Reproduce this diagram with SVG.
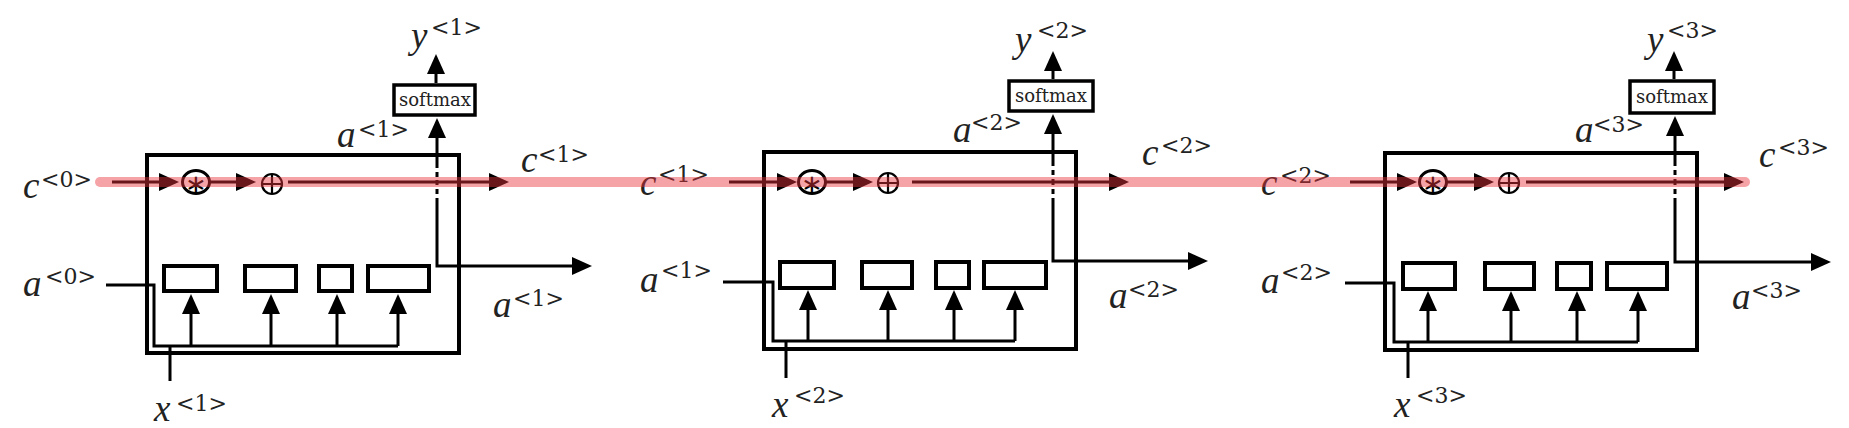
<svg xmlns="http://www.w3.org/2000/svg" width="1849" height="428" viewBox="0 0 1849 428">
<style>
.box{fill:none;stroke:#000;stroke-width:4}
.gate{fill:#fff;stroke:#000;stroke-width:4}
.sm{fill:#fff;stroke:#000;stroke-width:3.5}
.ln{fill:none;stroke:#000;stroke-width:3}
.arr{marker-end:url(#ah)}
.op{fill:#fff;stroke:#000;stroke-width:3}
.opl{fill:none;stroke:#000;stroke-width:2.2}
.v{font-family:"Liberation Serif",serif;font-style:italic;font-size:37px;fill:#222}
.s{font-family:"DejaVu Serif",serif;font-style:normal;font-size:22px;fill:#222}
.smt{font-family:"DejaVu Serif",serif;font-size:18px;text-anchor:middle;fill:#222}
.ast{font-family:"DejaVu Sans",sans-serif;font-size:26px;text-anchor:middle;fill:#000}
.pink{fill:none;stroke:#e8323c;stroke-opacity:.45;stroke-width:10}
</style>
<defs>
<marker id="ah" viewBox="0 -10 21 20" refX="1" refY="0" markerWidth="21" markerHeight="20" markerUnits="userSpaceOnUse" orient="auto"><path d="M0,-9 L20,0 L0,9 z" fill="#000"/></marker>
</defs>
<rect width="1849" height="428" fill="#fff"/>

<g id="cell1">
<rect class="box" x="147" y="155" width="312" height="198"/>
<rect class="gate" x="164" y="266" width="53" height="25"/>
<rect class="gate" x="245" y="266" width="51" height="25"/>
<rect class="gate" x="319" y="266" width="33" height="25"/>
<rect class="gate" x="368" y="266" width="61" height="25"/>
<rect class="sm" x="394" y="85" width="81" height="30"/>
<text class="smt" x="435" y="106">softmax</text>
<ellipse class="op" cx="196" cy="182" rx="13.5" ry="11.5"/>
<text class="ast" x="196" y="193">∗</text>
<circle class="op" cx="272" cy="184" r="10" style="stroke-width:2.2"/>
<path class="opl" d="M262,184 H282 M272,174 V194"/>
</g>

<g id="cell2">
<rect class="box" x="764" y="152" width="312" height="197"/>
<rect class="gate" x="780" y="262" width="54" height="26"/>
<rect class="gate" x="862" y="262" width="50" height="26"/>
<rect class="gate" x="936" y="262" width="33" height="26"/>
<rect class="gate" x="984" y="262" width="62" height="26"/>
<rect class="sm" x="1009" y="81" width="84" height="30"/>
<text class="smt" x="1051" y="102">softmax</text>
<ellipse class="op" cx="812" cy="182" rx="13.5" ry="11.5"/>
<text class="ast" x="812" y="193">∗</text>
<circle class="op" cx="888" cy="183" r="10" style="stroke-width:2.2"/>
<path class="opl" d="M878,183 H898 M888,173 V193"/>
</g>

<g id="cell3">
<rect class="box" x="1385" y="153" width="312" height="197"/>
<rect class="gate" x="1403" y="263" width="52" height="26"/>
<rect class="gate" x="1485" y="263" width="49" height="26"/>
<rect class="gate" x="1557" y="263" width="34" height="26"/>
<rect class="gate" x="1607" y="263" width="60" height="26"/>
<rect class="sm" x="1630" y="81" width="84" height="32"/>
<text class="smt" x="1672" y="103">softmax</text>
<ellipse class="op" cx="1433" cy="182" rx="13.5" ry="11.5"/>
<text class="ast" x="1433" y="193">∗</text>
<circle class="op" cx="1509" cy="183" r="10" style="stroke-width:2.2"/>
<path class="opl" d="M1499,183 H1519 M1509,173 V193"/>
</g>

<g id="connectors">
<!-- cell 1 -->
<path class="ln arr" d="M436,83 V73"/>
<path class="ln arr" d="M437,168 V137"/>
<path class="ln" d="M437,172 V177 M437,180 V185 M437,189 V194"/>
<path class="ln arr" d="M437,198 V266 H573"/>
<path class="ln arr" d="M191,346 V313"/>
<path class="ln arr" d="M271,346 V313"/>
<path class="ln arr" d="M337,346 V313"/>
<path class="ln arr" d="M398,346 V313"/>
<path class="ln" d="M106,285 H154 V346 H398 M170,381 V346"/>
<path class="ln arr" d="M112,182 H160"/>
<path class="ln arr" d="M210,182 H237"/>
<path class="ln arr" d="M288,182 H490"/>
<!-- cell 2 -->
<path class="ln arr" d="M1053,79 V70"/>
<path class="ln arr" d="M1053,166 V133"/>
<path class="ln" d="M1053,170 V175 M1053,179 V185 M1053,189 V194"/>
<path class="ln arr" d="M1053,198 V261 H1189"/>
<path class="ln arr" d="M808,341 V309"/>
<path class="ln arr" d="M888,341 V309"/>
<path class="ln arr" d="M954,341 V309"/>
<path class="ln arr" d="M1015,341 V309"/>
<path class="ln" d="M723,282 H773 V341 H1015 M786,378 V341"/>
<path class="ln arr" d="M729,182 H778"/>
<path class="ln arr" d="M826,182 H854"/>
<path class="ln arr" d="M912,182 H1110"/>
<!-- cell 3 -->
<path class="ln arr" d="M1674,79 V70"/>
<path class="ln arr" d="M1675,166 V135"/>
<path class="ln" d="M1675,170 V175 M1675,179 V185 M1675,189 V194"/>
<path class="ln arr" d="M1675,198 V262 H1812"/>
<path class="ln arr" d="M1428,342 V310"/>
<path class="ln arr" d="M1511,342 V310"/>
<path class="ln arr" d="M1577,342 V310"/>
<path class="ln arr" d="M1638,342 V310"/>
<path class="ln" d="M1345,283 H1394 V342 H1638 M1408,378 V342"/>
<path class="ln arr" d="M1350,182 H1398"/>
<path class="ln arr" d="M1447,182 H1475"/>
<path class="ln arr" d="M1526,182 H1725"/>
</g>

<g id="labels">
<text class="v" x="23" y="198">c<tspan class="s" x="41" y="187">&lt;0&gt;</tspan></text>
<text class="v" x="23" y="296">a<tspan class="s" x="45" y="284">&lt;0&gt;</tspan></text>
<text class="v" x="154" y="421">x<tspan class="s" x="176" y="411">&lt;1&gt;</tspan></text>
<text class="v" x="411" y="48">y<tspan class="s" x="431" y="35">&lt;1&gt;</tspan></text>
<text class="v" x="337" y="147">a<tspan class="s" x="358" y="137">&lt;1&gt;</tspan></text>
<text class="v" x="521" y="172">c<tspan class="s" x="538" y="162">&lt;1&gt;</tspan></text>
<text class="v" x="493" y="317">a<tspan class="s" x="513" y="306">&lt;1&gt;</tspan></text>

<text class="v" x="640" y="195">c<tspan class="s" x="658" y="182">&lt;1&gt;</tspan></text>
<text class="v" x="640" y="292">a<tspan class="s" x="661" y="278">&lt;1&gt;</tspan></text>
<text class="v" x="772" y="417">x<tspan class="s" x="794" y="403">&lt;2&gt;</tspan></text>
<text class="v" x="1015" y="52">y<tspan class="s" x="1037" y="38">&lt;2&gt;</tspan></text>
<text class="v" x="953" y="142">a<tspan class="s" x="971" y="130">&lt;2&gt;</tspan></text>
<text class="v" x="1142" y="165">c<tspan class="s" x="1161" y="153">&lt;2&gt;</tspan></text>
<text class="v" x="1109" y="308">a<tspan class="s" x="1128" y="297">&lt;2&gt;</tspan></text>

<text class="v" x="1261" y="195">c<tspan class="s" x="1280" y="183">&lt;2&gt;</tspan></text>
<text class="v" x="1261" y="293">a<tspan class="s" x="1281" y="280">&lt;2&gt;</tspan></text>
<text class="v" x="1394" y="417">x<tspan class="s" x="1416" y="403">&lt;3&gt;</tspan></text>
<text class="v" x="1647" y="52">y<tspan class="s" x="1667" y="38">&lt;3&gt;</tspan></text>
<text class="v" x="1575" y="142">a<tspan class="s" x="1593" y="132">&lt;3&gt;</tspan></text>
<text class="v" x="1759" y="167">c<tspan class="s" x="1778" y="155">&lt;3&gt;</tspan></text>
<text class="v" x="1732" y="309">a<tspan class="s" x="1751" y="298">&lt;3&gt;</tspan></text>
</g>

<path class="pink" d="M100,182 H1745" style="stroke-linecap:round"/>
</svg>
